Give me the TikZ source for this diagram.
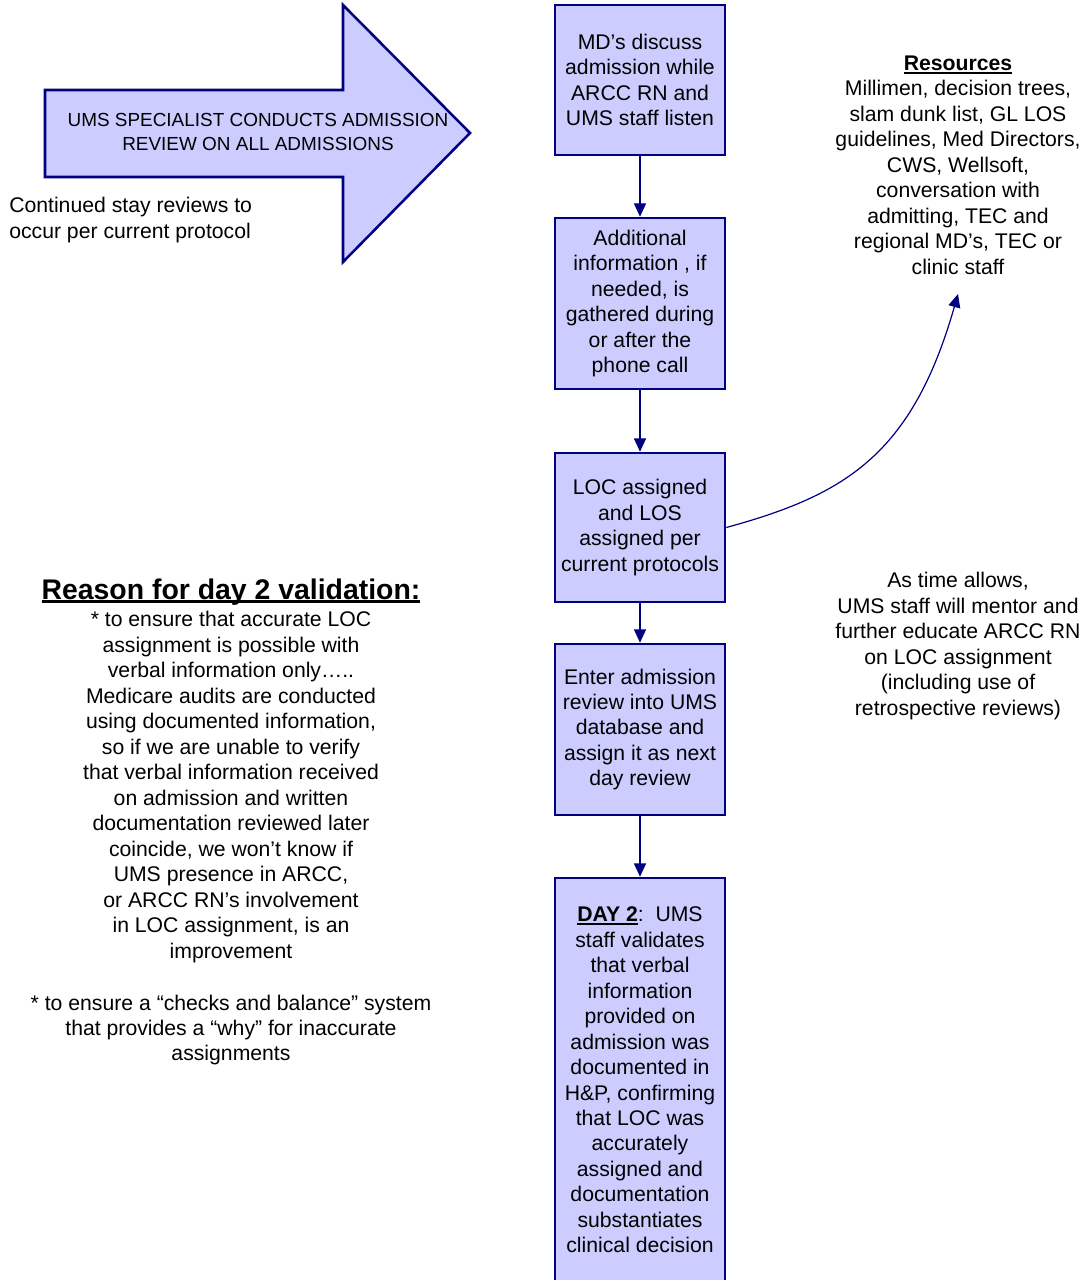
\documentclass[tikz,border=0pt]{standalone}
\usepackage{fontspec}
\setmainfont{Liberation Sans}
\usetikzlibrary{arrows.meta}
\definecolor{navyline}{HTML}{000080}
\definecolor{lavfill}{HTML}{CCCCFF}
\newcommand\bodyfont{\fontsize{15.9}{19.1}\selectfont}
\newcommand\arrowfont{\fontsize{14.2}{17.3}\selectfont}
\newcommand\headfont{\fontsize{21.3}{25}\selectfont}
% underline drawn close to the baseline
\newcommand\myul[2][1.2pt]{\setbox0\hbox{#2}\rlap{\rule[-2.4pt]{\wd0}{#1}}\box0}
\begin{document}
\begin{tikzpicture}[x=0.75pt,y=-0.75pt,
  stepbox/.style={draw=navyline, fill=lavfill, line width=1.9pt,
    minimum width=127.5pt, inner sep=0pt, align=center, font=\bodyfont},
  flow/.style={draw=navyline, line width=0.9pt,
    -{Triangle[width=9pt,length=10pt]}},
  note/.style={align=center, inner sep=0pt, font=\bodyfont}]
\useasboundingbox (0,0) rectangle (1086,1280);

% big block arrow on the left
\draw[fill=lavfill, draw=navyline, line width=1.9pt]
  (45,90) -- (343,90) -- (343,5) -- (470,133) -- (343,262)
  -- (343,177) -- (45,177) -- cycle;
\node[note, font=\arrowfont] (spec) at (258,132)
  {UMS SPECIALIST CONDUCTS ADMISSION\\REVIEW ON ALL ADMISSIONS};
\node[note, align=left, anchor=west] (cont) at (9,220)
  {Continued stay reviews to\\occur per current protocol};

% process steps
\node[stepbox, minimum height=112.5pt] (b1) at (640,80)
  {MD’s discuss\\admission while\\ARCC RN and\\UMS staff listen};
\node[stepbox, minimum height=128.25pt] (b2) at (640,303.5)
  {Additional\\information , if\\needed, is\\gathered during\\or after the\\phone call};
\node[stepbox, minimum height=111.75pt] (b3) at (640,527.5)
  {LOC assigned\\and LOS\\assigned per\\current protocols};
\node[stepbox, minimum height=128.25pt] (b4) at (640,729.5)
  {Enter admission\\review into UMS\\database and\\assign it as next\\day review};
\node[stepbox, minimum height=303pt] (b5) at (640,1080)
  {\textbf{\myul{DAY 2}}:\ \ UMS\\staff validates\\that verbal\\information\\provided on\\admission was\\documented in\\H\&P, confirming\\that LOC was\\accurately\\assigned and\\documentation\\substantiates\\clinical decision};

\draw[flow] (b1) -- (b2);
\draw[flow] (b2) -- (b3);
\draw[flow] (b3) -- (b4);
\draw[flow] (b4) -- (b5);

% resources
\node[note] (res) at (958,165)
  {\textbf{\myul{Resources}}\\Millimen, decision trees,\\slam dunk list, GL LOS\\guidelines, Med Directors,\\CWS, Wellsoft,\\conversation with\\admitting, TEC and\\regional MD’s, TEC or\\clinic staff};
\coordinate (resin) at (958,294);
\draw[flow] (b3.east) .. controls (845,495) and (912,455) .. (resin);

% mentoring note
\node[note] (mentor) at (958,646)
  {As time allows,\\UMS staff will mentor and\\further educate ARCC RN\\on LOC assignment\\(including use of\\retrospective reviews)};

% reason for day 2 validation
\node[note, font=\headfont] (reason) at (231,592)
  {\textbf{\myul[1.6pt]{Reason for day 2 validation:}}};
\node[note] (why1) at (231,787)
  {* to ensure that accurate LOC\\assignment is possible with\\verbal information only…..\\Medicare audits are conducted\\using documented information,\\so if we are unable to verify\\that verbal information received\\on admission and written\\documentation reviewed later\\coincide, we won’t know if\\UMS presence in ARCC,\\or ARCC RN’s involvement\\in LOC assignment, is an\\improvement};
\node[note] (why2) at (231,1030)
  {* to ensure a “checks and balance” system\\that provides a “why” for inaccurate\\assignments};
\end{tikzpicture}
\end{document}
